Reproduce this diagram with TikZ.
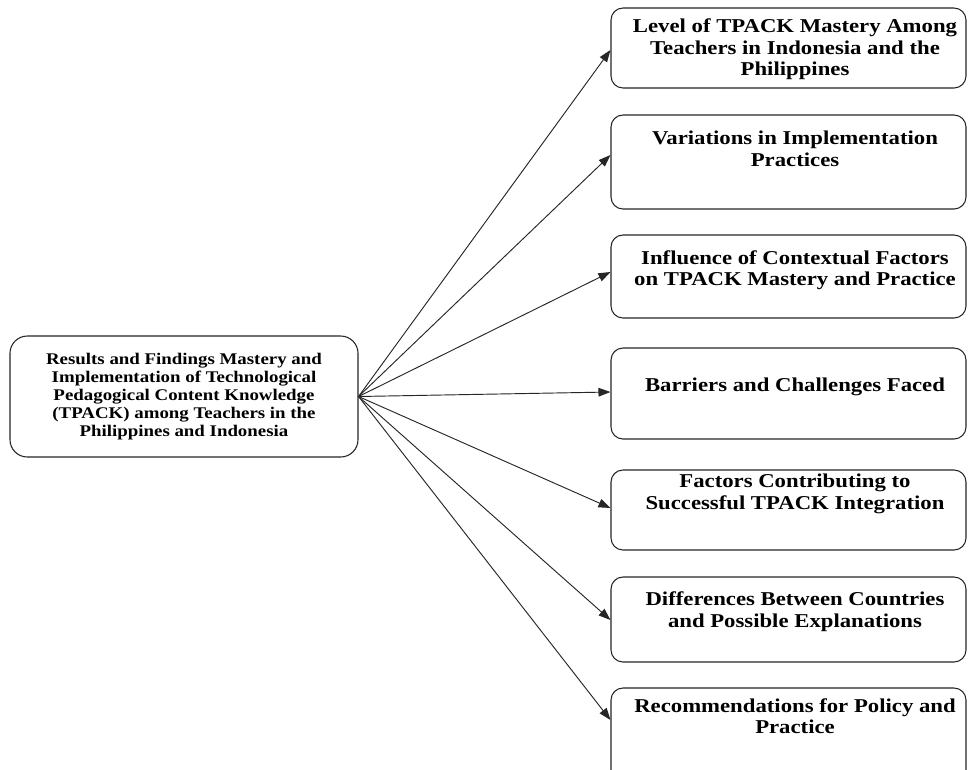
\documentclass[tikz,border=0pt]{standalone}
\usepackage{fontspec}
\setmainfont{Liberation Serif}[FakeStretch=1.16]
\usetikzlibrary{arrows.meta,calc}
\tikzset{
  box/.style={draw=black!85, line width=0.8pt, rounded corners=9pt, minimum width=266.25pt, inner sep=0pt},
  mainbox/.style={draw=black!85, line width=0.8pt, rounded corners=13pt, minimum width=261pt, minimum height=90.75pt, inner sep=0pt, align=center, font=\bfseries\fontsize{12.2pt}{13.6pt}\selectfont},
  txt/.style={font=\bfseries\fontsize{14.7pt}{16.1pt}\selectfont, align=center, inner sep=0pt},
  link/.style={-{Triangle[length=9pt,width=6.5pt]}, line width=0.7pt, draw=black!85}
}
\begin{document}
\begin{tikzpicture}[x=0.75pt,y=-0.75pt]
\useasboundingbox (0,0) rectangle (968,769);
\clip (0,0) rectangle (968,769);
\fill[white] (0,0) rectangle (968,769);

\node[mainbox] (c) at (184,396.5) {Results and Findings Mastery and\\Implementation of Technological\\Pedagogical Content Knowledge\\(TPACK) among Teachers in the\\Philippines and Indonesia};

\node[box, minimum height=60pt] (b1) at (788.5,48) {};
\node[txt] (t1) at (795,49.5) {Level of TPACK Mastery Among\\Teachers in Indonesia and the\\Philippines};

\node[box, minimum height=70.5pt] (b2) at (788.5,162) {};
\node[txt] (t2) at (795,149) {Variations in Implementation\\Practices};

\node[box, minimum height=62.25pt] (b3) at (788.5,276.5) {};
\node[txt] (t3) at (795,270) {Influence of Contextual Factors\\on TPACK Mastery and Practice};

\node[box, minimum height=68.25pt] (b4) at (788.5,393.5) {};
\node[txt] (t4) at (795,387) {Barriers and Challenges Faced};

\node[box, minimum height=60pt] (b5) at (788.5,510) {};
\node[txt] (t5) at (795,494) {Factors Contributing to\\Successful TPACK Integration};

\node[box, minimum height=63.75pt] (b6) at (788.5,619.5) {};
\node[txt] (t6) at (795,611.5) {Differences Between Countries\\and Possible Explanations};

\node[box, minimum height=84pt] (b7) at (788.5,744) {};
\node[txt] (t7) at (795,716) {Recommendations for Policy and\\Practice};

\draw[link] (c.east) -- ($(b1.west)+(0,2)$);
\draw[link] (c.east) -- ($(b2.west)+(0,-7)$);
\draw[link] (c.east) -- ($(b3.west)+(0,-4.5)$);
\draw[link] (c.east) -- ($(b4.west)+(0,-1.5)$);
\draw[link] (c.east) -- ($(b5.west)+(0,-2)$);
\draw[link] (c.east) -- ($(b6.west)+(0,0.5)$);
\draw[link] (c.east) -- ($(b7.west)+(0,-24)$);
\end{tikzpicture}
\end{document}
